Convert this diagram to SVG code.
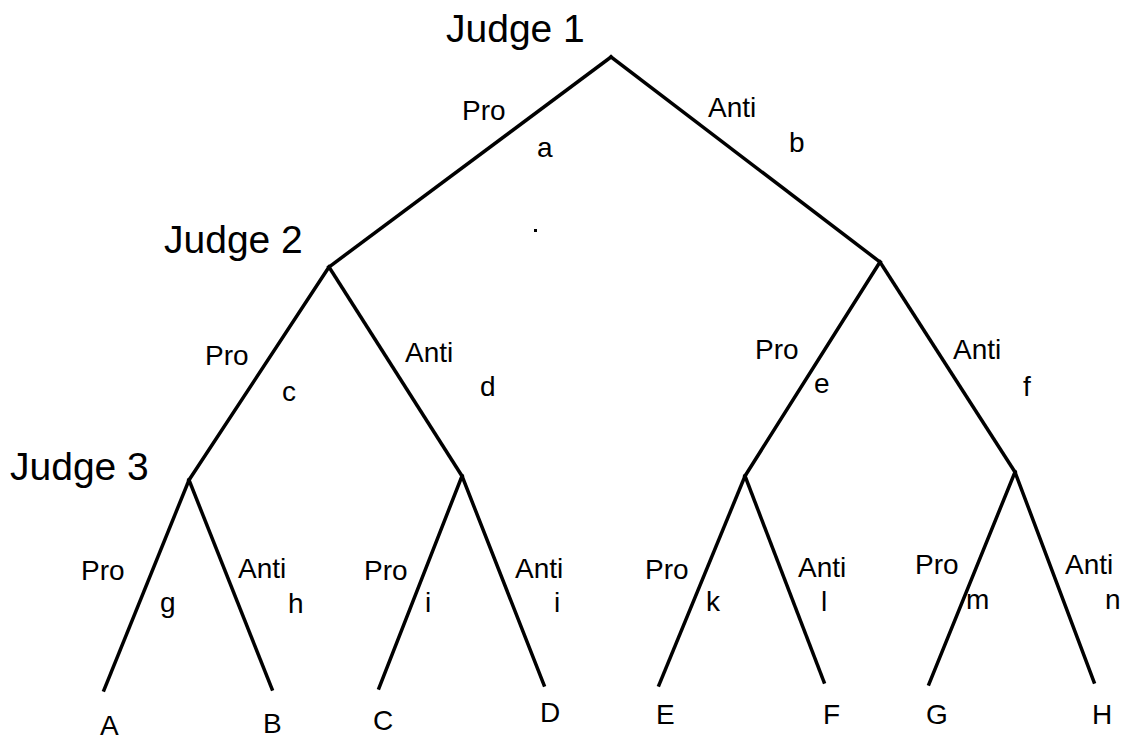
<svg xmlns="http://www.w3.org/2000/svg" width="1129" height="740" viewBox="0 0 1129 740">
<style>
.e{stroke:#000;stroke-width:3.5;stroke-linecap:square;fill:none}
.t{font-family:"Liberation Sans",Arial,sans-serif;font-size:28px;fill:#000}
.j{font-family:"Liberation Sans",Arial,sans-serif;font-size:39px;fill:#000}
</style>
<rect width="1129" height="740" fill="#fff"/>
<g id="connectors">
<path class="e" d="M611 57 L329 267"/>
<path class="e" d="M611 57 L880 262"/>
<path class="e" d="M329 267 L189 480"/>
<path class="e" d="M329 267 L462 476"/>
<path class="e" d="M880 262 L745 476"/>
<path class="e" d="M880 262 L1015 472"/>
<path class="e" d="M189 480 L104 690"/>
<path class="e" d="M189 480 L272 689"/>
<path class="e" d="M462 476 L379 688"/>
<path class="e" d="M462 476 L544 685"/>
<path class="e" d="M745 476 L659 685"/>
<path class="e" d="M745 476 L824 682"/>
<path class="e" d="M1015 472 L929 684"/>
<path class="e" d="M1015 472 L1094 682"/>
<g id="edge-labels">
<text class="t" x="462" y="120">Pro</text>
<text class="t" x="537" y="157">a</text>
<text class="t" x="708" y="117">Anti</text>
<text class="t" x="789" y="152">b</text>
<text class="t" x="205" y="365">Pro</text>
<text class="t" x="282" y="401">c</text>
<text class="t" x="405" y="362">Anti</text>
<text class="t" x="480" y="396">d</text>
<text class="t" x="755" y="359">Pro</text>
<text class="t" x="814" y="393">e</text>
<text class="t" x="953" y="359">Anti</text>
<text class="t" x="1023" y="396">f</text>
<text class="t" x="81" y="580">Pro</text>
<text class="t" x="160" y="612">g</text>
<text class="t" x="238" y="578">Anti</text>
<text class="t" x="288" y="613">h</text>
<text class="t" x="364" y="580">Pro</text>
<text class="t" x="425" y="612">i</text>
<text class="t" x="515" y="578">Anti</text>
<text class="t" x="554" y="612">i</text>
<text class="t" x="645" y="579">Pro</text>
<text class="t" x="706" y="611">k</text>
<text class="t" x="798" y="577">Anti</text>
<text class="t" x="821" y="611">l</text>
<text class="t" x="915" y="574">Pro</text>
<text class="t" x="966" y="609">m</text>
<text class="t" x="1065" y="574">Anti</text>
<text class="t" x="1105" y="609">n</text>
</g>
</g>
<g id="judge1"><text class="j" x="446" y="42">Judge 1</text></g>
<g id="judge2"><text class="j" x="164" y="253">Judge 2</text></g>
<g id="node-right"></g>
<g id="judge3"><text class="j" x="10" y="480">Judge 3</text></g>
<g id="node-mark"><rect x="534" y="229" width="3" height="3" fill="#000"/></g>
<g id="leafA"><text class="t" x="100" y="735">A</text></g>
<g id="leafB"><text class="t" x="263" y="733">B</text></g>
<g id="leafC"><text class="t" x="373" y="730">C</text></g>
<g id="leafD"><text class="t" x="540" y="722">D</text></g>
<g id="leafE"><text class="t" x="656" y="724">E</text></g>
<g id="leafF"><text class="t" x="823" y="724">F</text></g>
<g id="leafG"><text class="t" x="926" y="724">G</text></g>
<g id="leafH"><text class="t" x="1092" y="724">H</text></g>
</svg>
